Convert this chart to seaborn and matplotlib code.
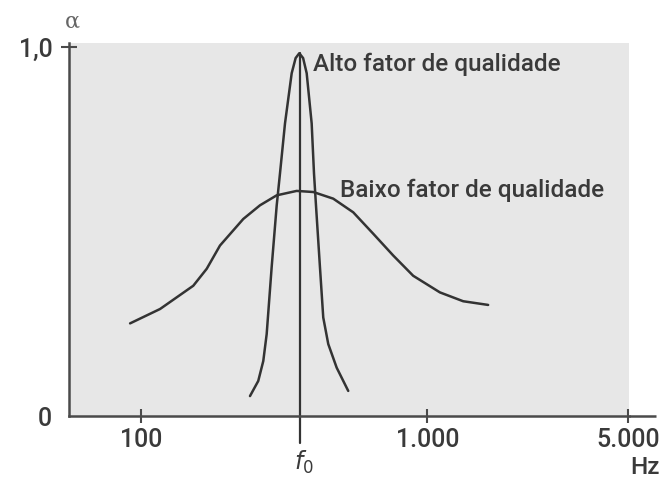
import numpy as np
import pandas as pd
import matplotlib
matplotlib.use("Agg")
import matplotlib.pyplot as plt
import seaborn as sns

# Low quality-factor curve (frequency in Hz, alpha)
low_freq = [91.8, 116.8, 152.5, 169.9, 189.0, 227.9, 260.6, 298.0, 349.9, 399.9,
            469.4, 551.2, 647.1, 759.8, 892.2, 1105.6, 1333, 1629]
low_alpha = [0.251, 0.290, 0.353, 0.399, 0.462, 0.534, 0.571, 0.598, 0.610, 0.607,
             0.589, 0.552, 0.494, 0.435, 0.380, 0.335, 0.311, 0.301]

# High quality-factor curve
high_freq = [240.5, 257.0, 267.6, 275.0, 286.2, 298.0, 306.0, 318.6, 336.2, 347.0,
             357.3, 368.5, 379.2, 394.7, 402.2, 408.7, 421.9, 433.2, 451.0, 482.5,
             529.5]
high_alpha = [0.054, 0.095, 0.149, 0.222, 0.403, 0.570, 0.657, 0.793, 0.929, 0.970,
              0.983, 0.970, 0.929, 0.793, 0.657, 0.570, 0.403, 0.267, 0.195, 0.131,
              0.068]

f0 = 359
xticks = [100, 1000, 5000]
xtick_labels = ["100", "1.000", "5.000"]
yticks = [0, 1]
ytick_labels = ["0", "1,0"]

sns.set_style("white", {"axes.facecolor": "#e7e7e7"})
plt.rcParams["font.family"] = ["Roboto", "DejaVu Sans"]

# pixel geometry of the plotting area
left_px, right_px, bottom_px, top_px = 69, 629, 416, 43
fig = plt.figure(figsize=(6.65, 4.79), dpi=100)
ax = fig.add_axes([left_px/665, 1-bottom_px/479, (right_px-left_px)/665,
                   (bottom_px-top_px)/479])

line_color = "#333333"
axis_color = "#4a4a4a"
text_color = "#3a3a3a"
low_df = pd.DataFrame({"f": low_freq, "a": low_alpha})
high_df = pd.DataFrame({"f": high_freq, "a": high_alpha})
sns.lineplot(data=low_df, x="f", y="a", ax=ax, color=line_color, lw=1.8, sort=False)
sns.lineplot(data=high_df, x="f", y="a", ax=ax, color=line_color, lw=1.8, sort=False)
for ln in ax.lines:
    ln.set_solid_joinstyle("round")
    ln.set_solid_capstyle("round")

ax.set_xscale("log")
ax.set_xlim(56.2, 5050)
ax.set_ylim(0, (bottom_px-top_px)/369)

# f0 vertical line, extends below axis
ax.plot([f0, f0], [-0.072, 0.983], color=line_color, lw=1.6, clip_on=False)

ax.set_xticks(xticks)
ax.set_xticklabels(xtick_labels)
ax.minorticks_off()
ax.tick_params(axis="x", which="major", bottom=True, direction="inout", length=10,
               width=1.5, color=axis_color, pad=3.5, labelsize=18,
               labelcolor=text_color)
ax.set_yticks(yticks)
ax.set_yticklabels(ytick_labels)
ax.tick_params(axis="y", which="major", left=True, direction="inout", length=12,
               width=1.5, color=axis_color, pad=6, labelsize=18,
               labelcolor=text_color)
ax.yaxis.get_major_ticks()[0].tick1line.set_visible(False)
for lab in ax.get_xticklabels() + ax.get_yticklabels():
    lab.set_fontweight("medium")

for s in ["top", "right"]:
    ax.spines[s].set_visible(False)
for s in ["left", "bottom"]:
    ax.spines[s].set_color(axis_color)
    ax.spines[s].set_linewidth(1.8)
# extend bottom axis line beyond the grey area
ax.plot([1.0, (656-left_px)/(right_px-left_px)], [0, 0], transform=ax.transAxes,
        color=axis_color, lw=1.8, clip_on=False, solid_capstyle="butt")

ax.set_xlabel("")
ax.set_ylabel("")

ax.text(399, 0.935, "Alto fator de qualidade", ha="left", va="baseline",
        fontsize=17.5, color=text_color, fontweight="medium")
ax.text(495.6, 0.593, "Baixo fator de qualidade", ha="left", va="baseline",
        fontsize=17.5, color=text_color, fontweight="medium")

fig.text(72/665, 1-22/479, "α", ha="center", va="center", fontsize=16,
         color="#666666", family=["DejaVu Serif"])
fig.text(645/665, 1-468/479, "Hz", ha="center", va="center", fontsize=17.5,
         color=text_color, fontweight="medium")
fig.text(304/665, 1-462/479, r"$\mathit{f}_0$", ha="center", va="center",
         fontsize=17, color=text_color)

fig.savefig("out.png", dpi=100)
